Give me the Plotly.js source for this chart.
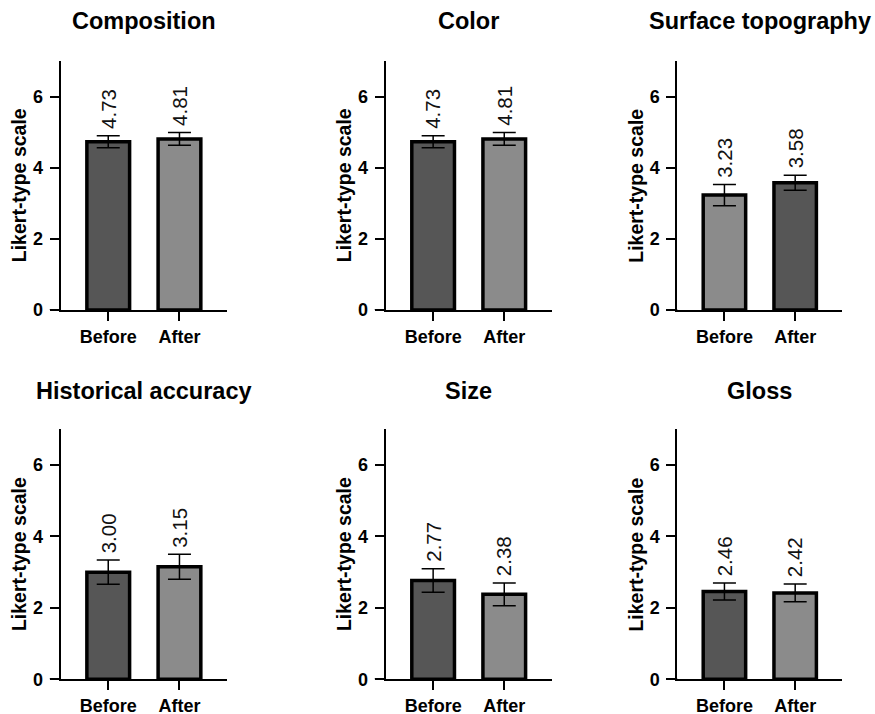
<!DOCTYPE html>
<html>
<head>
<meta charset="utf-8">
<script src="https://cdn.plot.ly/plotly-3.0.1.min.js"></script>
<style>html,body{margin:0;padding:0;background:#fff;}</style>
</head>
<body>
<div id="chart" style="width:875px;height:714px;"></div>
<script>
// ---- data ----
const panelTitles = ["Composition", "Color", "Surface topography", "Historical accuracy", "Size", "Gloss"];
const groups = ["Before", "After"];
const beforeMeans = [4.73, 4.73, 3.23, 3.00, 2.77, 2.46];
const afterMeans  = [4.81, 4.81, 3.58, 3.15, 2.38, 2.42];
const beforeErr   = [0.17, 0.17, 0.30, 0.34, 0.33, 0.24];
const afterErr    = [0.18, 0.18, 0.21, 0.35, 0.32, 0.25];
const yTitle = "Likert-type scale";
const yTicks = [0, 2, 4, 6];

// ---- style ----
const FONT = "Liberation Sans, Arial, Helvetica, sans-serif";
const DARK = "#565656", LIGHT = "#8b8b8b";
const panelColors = [[DARK, LIGHT],[DARK, LIGHT],[LIGHT, DARK],[DARK, LIGHT],[DARK, LIGHT],[DARK, LIGHT]];
const colDomains = [[0.0694, 0.2594], [0.4408, 0.6305], [0.774, 0.9627]];
const rowDomains = [[0.5658, 0.9146], [0.0486, 0.3986]];

const data = [];
const layout = {
  width: 875, height: 714,
  margin: {l: 0, r: 0, t: 0, b: 0},
  paper_bgcolor: "#fff", plot_bgcolor: "rgba(0,0,0,0)",
  showlegend: false,
  font: {family: FONT, color: "#000"},
  annotations: [], shapes: []
};

for (let i = 0; i < 6; i++) {
  const n = i + 1;
  const xa = n === 1 ? "x" : "x" + n;
  const ya = n === 1 ? "y" : "y" + n;
  const row = Math.floor(i / 3), col = i % 3;
  const vals = [beforeMeans[i], afterMeans[i]];
  const errs = [beforeErr[i], afterErr[i]];
  data.push({
    type: "bar", x: groups, y: vals, xaxis: xa, yaxis: ya,
    width: 0.6,
    marker: {color: panelColors[i], line: {color: "#000", width: 3.5}},
    error_y: {type: "data", array: errs, visible: true, color: "#000", thickness: 1.5, width: 11.5},
    hoverinfo: "none"
  });
  layout["xaxis" + (n === 1 ? "" : n)] = {
    domain: colDomains[col], anchor: ya, type: "category",
    categoryorder: "array", categoryarray: groups,
    range: [-0.667, 1.667], fixedrange: true,
    showline: true, linecolor: "#000", linewidth: 2,
    ticks: "outside", ticklen: 9, tickwidth: 2, tickcolor: "#000",
    ticklabelstandoff: 0,
    tickfont: {family: FONT, size: 18, color: "#000", weight: "bold"},
    showgrid: false, zeroline: false
  };
  layout["yaxis" + (n === 1 ? "" : n)] = {
    domain: rowDomains[row], anchor: xa,
    range: [0, 7], tickvals: yTicks, fixedrange: true,
    showline: true, linecolor: "#000", linewidth: 2,
    ticks: "outside", ticklen: 9, tickwidth: 2, tickcolor: "#000",
    ticklabelstandoff: 3,
    tickfont: {family: FONT, size: 18, color: "#000", weight: "bold"},
    showgrid: false, zeroline: false
  };
  // x axis line extending a little left of the y axis (GraphPad style)
  layout.shapes.push({type: "line", xref: xa + " domain", yref: ya, x0: -0.066, x1: 0, y0: 0, y1: 0,
    line: {color: "#000", width: 2}});
  // panel title
  layout.annotations.push({
    xref: "paper", yref: "paper",
    x: (colDomains[col][0] + colDomains[col][1]) / 2,
    y: row === 0 ? 1 - 21 / 714 : 1 - 391 / 714,
    xanchor: "center", yanchor: "middle", showarrow: false,
    text: panelTitles[i],
    font: {family: FONT, size: 23.5, color: "#000", weight: "bold"}
  });
  // y axis title
  layout.annotations.push({
    xref: xa + " domain", yref: ya + " domain", x: 0, y: 0.5,
    xshift: -41, xanchor: "center", yanchor: "middle", showarrow: false,
    textangle: -90, text: yTitle,
    font: {family: FONT, size: 19.5, color: "#000", weight: "bold"}
  });
  // value labels, just above the error bar caps
  for (let k = 0; k < 2; k++) {
    layout.annotations.push({
      xref: xa, yref: ya, x: groups[k], y: vals[k] + errs[k],
      xanchor: "center", yanchor: "bottom", yshift: 5, showarrow: false,
      textangle: -90, text: vals[k].toFixed(2),
      font: {family: FONT, size: 20.5, color: "#111"}
    });
  }
}

Plotly.newPlot("chart", data, layout, {staticPlot: true, displayModeBar: false});
</script>
</body>
</html>
